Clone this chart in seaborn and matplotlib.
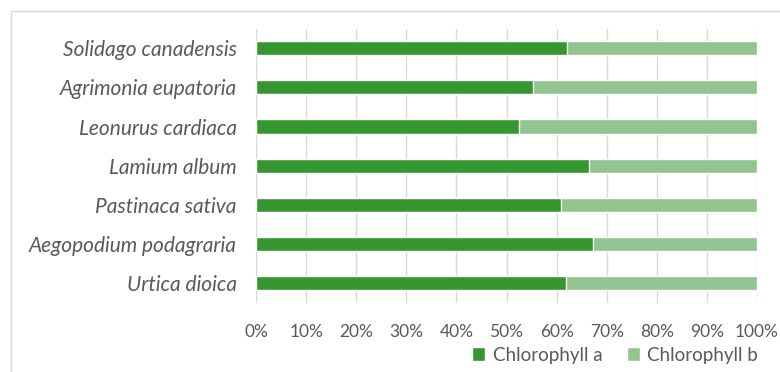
import matplotlib
matplotlib.use("Agg")
import matplotlib.pyplot as plt
import seaborn as sns
import pandas as pd
from matplotlib.lines import Line2D
from matplotlib.patches import Patch
from matplotlib.ticker import PercentFormatter

# data (shares of total chlorophyll, %)
species = ["Solidago canadensis", "Agrimonia eupatoria", "Leonurus cardiaca",
           "Lamium album", "Pastinaca sativa", "Aegopodium podagraria", "Urtica dioica"]
chl_a = [62.0, 55.3, 52.4, 66.4, 60.8, 67.3, 61.9]
chl_b = [38.0, 44.7, 47.6, 33.6, 39.2, 32.7, 38.1]

DARK = "#36962f"
LIGHT = "#91c48e"
TXT = "#595959"

df = pd.DataFrame({"species": species, "a": chl_a, "total": [a + b for a, b in zip(chl_a, chl_b)]})

sns.set_style("white")
plt.rcParams["font.family"] = ["Lato", "DejaVu Sans"]

fig = plt.figure(figsize=(7.8, 3.72), dpi=100)
ax = fig.add_axes([256 / 780, 1 - 303 / 372, 501 / 780, 274.5 / 372])

sns.barplot(data=df, y="species", x="total", color=LIGHT, width=0.36,
            saturation=1, orient="h", ax=ax, zorder=2)
sns.barplot(data=df, y="species", x="a", color=DARK, width=0.36,
            saturation=1, orient="h", ax=ax, zorder=3)

ax.set_xlim(0, 100)
ax.set_xticks(range(0, 101, 10))
ax.xaxis.set_major_formatter(PercentFormatter(decimals=0))
ax.set_xlabel("")
ax.set_ylabel("")
ax.grid(axis="x", color="#d9d9d9", linewidth=1, zorder=0)
ax.set_axisbelow(True)
for s in ax.spines.values():
    s.set_visible(False)
ax.tick_params(axis="x", length=0, pad=15, labelsize=12.5, labelcolor=TXT)
ax.tick_params(axis="y", length=0, pad=14, labelsize=15, labelcolor=TXT)
for lbl in ax.get_yticklabels():
    lbl.set_fontstyle("italic")

handles = [Patch(facecolor=DARK, label="Chlorophyll a"),
           Patch(facecolor=LIGHT, label="Chlorophyll b")]
fig.legend(handles=handles, loc="center", bbox_to_anchor=(615 / 780, 1 - 355 / 372),
           ncol=2, frameon=False, fontsize=13.5, labelcolor=TXT,
           handlelength=0.7, handleheight=0.7, handletextpad=0.4, columnspacing=1.3)

# outer chart frame (partly cropped in the original)
fig.add_artist(Line2D([11 / 780, 1.0], [1 - 11 / 372] * 2, color="#d9d9d9", lw=1))
fig.add_artist(Line2D([11 / 780] * 2, [0, 1 - 11 / 372], color="#d9d9d9", lw=1))

fig.savefig("out.png", dpi=100)
